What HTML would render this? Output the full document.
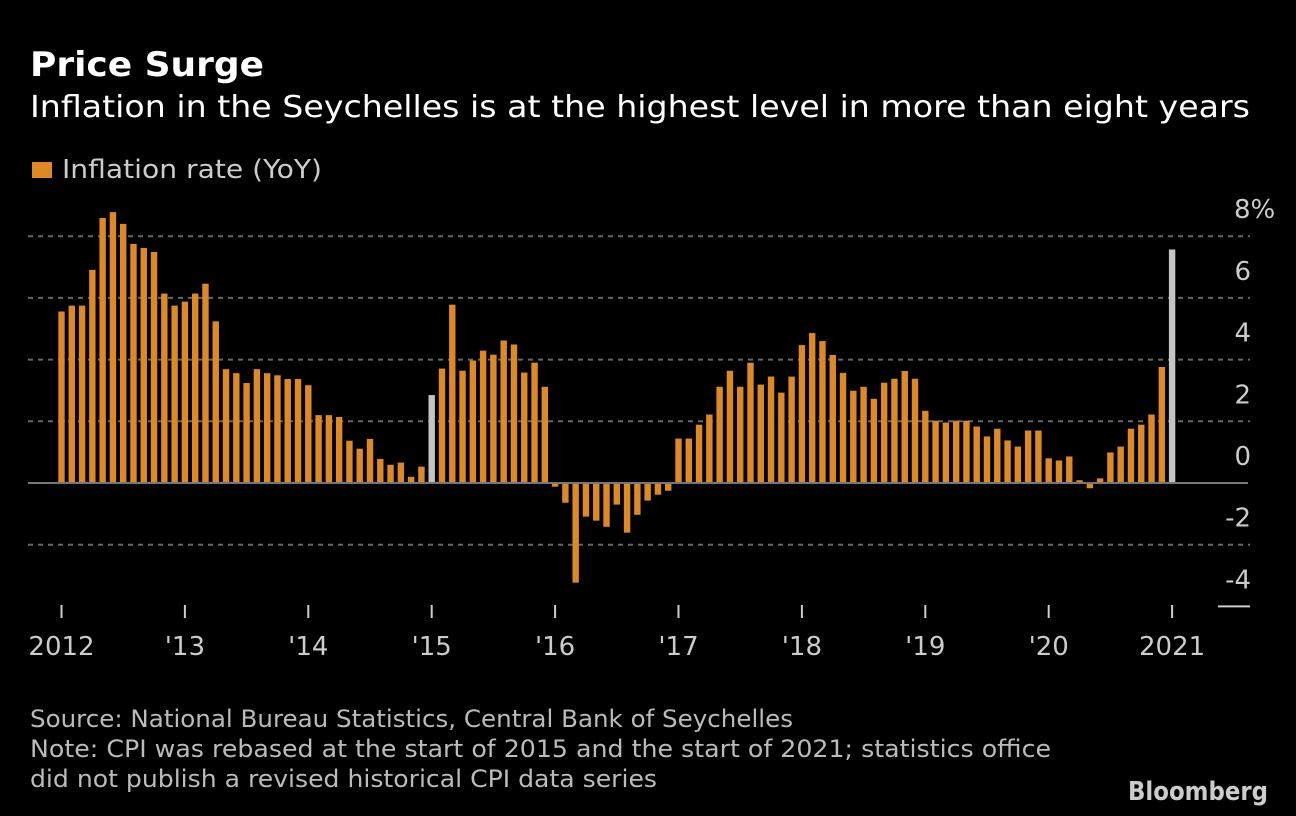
<!DOCTYPE html>
<html><head><meta charset="utf-8"><style>
html,body{margin:0;padding:0;background:#000;}
svg{display:block;font-family:"DejaVu Sans","Liberation Sans",sans-serif;}
</style></head><body>
<svg id="chart" width="1296" height="816" viewBox="0 0 1296 816">
<rect x="0" y="0" width="1296" height="816" fill="#000"/>
<text x="30" y="76" font-size="34" font-weight="bold" fill="#fff" textLength="234" lengthAdjust="spacingAndGlyphs">Price Surge</text>
<text x="30" y="117" font-size="30" fill="#fff" textLength="1220" lengthAdjust="spacingAndGlyphs">Inflation in the Seychelles is at the highest level in more than eight years</text>
<rect x="32" y="162" width="20" height="16" fill="#dd8a26"/>
<text x="62" y="178" font-size="26" fill="#ccc" textLength="260" lengthAdjust="spacingAndGlyphs">Inflation rate (YoY)</text>
<g id="grid"></g>
<g id="bars"></g>
<g id="axes"></g>
<text x="30" y="727" font-size="24" fill="#bbb" textLength="763" lengthAdjust="spacingAndGlyphs">Source: National Bureau Statistics, Central Bank of Seychelles</text>
<text x="30" y="757" font-size="24" fill="#bbb" textLength="1021" lengthAdjust="spacingAndGlyphs">Note: CPI was rebased at the start of 2015 and the start of 2021; statistics office</text>
<text x="30" y="787" font-size="24" fill="#bbb" textLength="627" lengthAdjust="spacingAndGlyphs">did not publish a revised historical CPI data series</text>
<text x="1268" y="800" font-size="26" font-weight="bold" fill="#ccc" text-anchor="end" textLength="140" lengthAdjust="spacingAndGlyphs">Bloomberg</text>
</svg>
<script>
const startYear = 2012;
const inflation = [
5.56,5.75,5.75,6.91,8.59,8.78,8.40,7.75,7.62,7.49,6.14,5.75,
5.88,6.14,6.46,5.24,3.69,3.56,3.24,3.69,3.56,3.49,3.37,3.37,
3.17,2.20,2.20,2.14,1.37,1.11,1.43,0.78,0.59,0.66,0.20,0.53,
2.85,3.71,5.78,3.64,3.97,4.29,4.16,4.62,4.49,3.58,3.90,3.12,
-0.12,-0.64,-3.23,-1.09,-1.22,-1.42,-0.70,-1.61,-1.03,-0.57,-0.38,-0.25,
1.44,1.44,1.89,2.22,3.12,3.64,3.12,3.90,3.19,3.45,2.93,3.45,
4.47,4.86,4.60,4.15,3.57,2.99,3.12,2.73,3.25,3.38,3.63,3.38,
2.34,2.02,1.96,2.02,2.02,1.83,1.51,1.76,1.38,1.18,1.70,1.70,
0.80,0.73,0.86,0.09,-0.17,0.15,0.99,1.18,1.76,1.89,2.22,3.76,
7.57];
const rebasedIndices = [36, 108];
const yTicks = [8,6,4,2,0,-2,-4];
const yTickLabels = ["8","6","4","2","0","-2","-4"];
const xTickLabels = ["2012","'13","'14","'15","'16","'17","'18","'19","'20","2021"];

const NS = "http://www.w3.org/2000/svg";
const y0 = 483, pxPerUnit = 30.85;
const x0 = 61.5, pxPerMonth = 123.4/12;
function yScale(v){ return y0 - v*pxPerUnit; }
function xScale(i){ return x0 + i*pxPerMonth; }
function mk(tag, attrs, parent){ const e=document.createElementNS(NS,tag); for(const k in attrs) e.setAttribute(k,attrs[k]); parent.appendChild(e); return e; }

const grid=document.getElementById('grid'), bars=document.getElementById('bars'), axes=document.getElementById('axes');
yTicks.forEach((v,k)=>{
  const y=yScale(v);
  if(v>0 || v===-2){
    const l=mk('line',{x1:28,x2:1250,y1:y,y2:y,stroke:'#666','stroke-width':2,'stroke-dasharray':'5,5'},grid);
    
    
  }
  const t=mk('text',{x:1251,y:y-18,'font-size':26,fill:'#ccc','text-anchor':'end'},axes);
  t.textContent=yTickLabels[k];
  if(k===0){ const s=mk('tspan',{},t); s.textContent='%'; t.setAttribute('text-anchor','start'); t.setAttribute('x',1234); }
  
  
});
const shortLine=mk('line',{x1:1218,x2:1250,y1:yScale(-4),y2:yScale(-4),stroke:'#ccc','stroke-width':2},axes);



const bw=6.4;
inflation.forEach((v,i)=>{
  const top=Math.min(yScale(v),y0), h=Math.abs(yScale(v)-y0);
  const r=mk('rect',{x:xScale(i)-bw/2,y:top,width:bw,height:Math.max(h,0.5),fill:rebasedIndices.includes(i)?'#c4c4c4':'#dd8a26'},bars);
  
  
});
const base=mk('line',{x1:28,x2:1248,y1:y0,y2:y0,stroke:'#777','stroke-width':2},axes);



xTickLabels.forEach((lab,k)=>{
  const x=xScale(k*12);
  const tk=mk('line',{x1:x,x2:x,y1:605,y2:618,stroke:'#ccc','stroke-width':2},axes);
  
  
  const t=mk('text',{x:x,y:655,'font-size':26,fill:'#ccc','text-anchor':'middle'},axes);
  t.textContent=lab;
  
  
});
</script>
</body></html>
